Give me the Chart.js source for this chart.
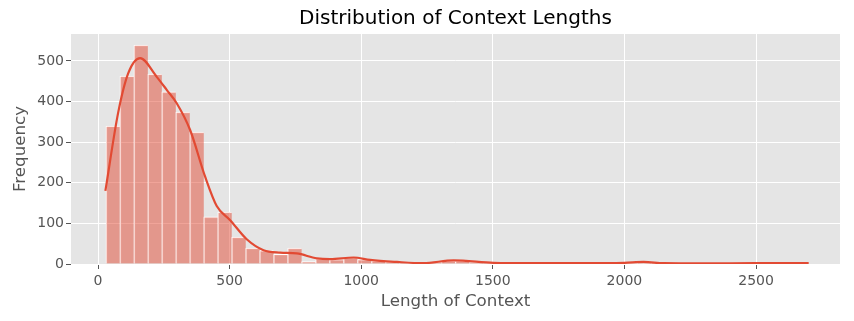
<!DOCTYPE html>
<html>
<head>
<meta charset="utf-8">
<script src="https://cdn.jsdelivr.net/npm/chart.js@4.4.0/dist/chart.umd.min.js"></script>
<style>
  html, body { margin: 0; padding: 0; background: #ffffff; }
  #wrap { width: 854px; height: 321px; position: relative; }
</style>
</head>
<body>
<div id="wrap"><canvas id="c" width="854" height="321"></canvas></div>
<script>
// ---- data ----
const binCenters = [56.56, 109.68, 162.8, 215.92, 269.04, 322.16, 375.28, 428.4, 481.52, 534.64,
  587.76, 640.88, 694.0, 747.12, 800.24, 853.36, 906.48, 959.6, 1012.72, 1065.84,
  1118.96, 1172.08, 1225.2, 1278.32, 1331.44, 1384.56, 1437.68, 1490.8, 1543.92, 1597.04,
  1650.16, 1703.28, 1756.4, 1809.52, 1862.64, 1915.76, 1968.88, 2022.0, 2075.12, 2128.24,
  2181.36, 2234.48, 2287.6, 2340.72, 2393.84, 2446.96, 2500.08, 2553.2, 2606.32, 2659.44];
const binCounts = [340, 463, 539, 468, 424, 374, 325, 116, 128, 66,
  39, 33, 24, 39, 6, 13, 11, 16, 11, 8,
  5, 3, 2, 3, 8, 8, 3, 1, 1, 1,
  1, 0, 1, 1, 0, 0, 1, 1, 3, 2,
  1, 0, 0, 1, 1, 0, 1, 0, 1, 1];
const kdeX = [28, 77, 115, 160, 223, 261, 299, 350, 407, 451, 502, 565, 629, 692, 755, 831, 882, 971, 1034, 1136, 1236, 1351, 1503, 1650, 1850, 2000, 2073, 2150, 2300, 2500, 2700];
const kdeY = [180, 374, 470, 507, 461, 429, 396, 330, 215, 143, 108, 61, 34, 28, 26, 14, 12, 16, 10, 5, 2, 9, 3, 2, 2, 3, 5, 2, 1.5, 2, 2];
const xTicks = [0, 500, 1000, 1500, 2000, 2500];
const yTicks = [0, 100, 200, 300, 400, 500];
const titleText = 'Distribution of Context Lengths';
const xLabel = 'Length of Context';
const yLabel = 'Frequency';

// ---- chart ----
const FONT = "'DejaVu Sans', sans-serif";
const barData = binCenters.map((x, i) => ({ x: x, y: binCounts[i] === 0 ? null : binCounts[i] }));
const kdeData = kdeX.map((x, i) => ({ x: x, y: kdeY[i] }));

new Chart(document.getElementById('c'), {
  type: 'bar',
  data: {
    datasets: [
      {
        type: 'line',
        data: kdeData,
        borderColor: '#E24A33',
        borderWidth: 2.2,
        pointRadius: 0,
        cubicInterpolationMode: 'monotone',
        fill: false,
        order: 0
      },
      {
        type: 'bar',
        data: barData,
        backgroundColor: 'rgba(226,74,51,0.5)',
        borderColor: '#ffffff',
        borderWidth: { top: 1, left: 1, right: 0, bottom: 0 },
        borderSkipped: false,
        barPercentage: 1,
        categoryPercentage: 1,
        order: 1
      }
    ]
  },
  options: {
    responsive: false,
    animation: false,
    devicePixelRatio: 1,
    layout: { padding: { left: 0, right: 14, top: 0, bottom: 0 } },
    plugins: {
      legend: { display: false },
      tooltip: { enabled: false },
      title: {
        display: true,
        text: titleText,
        color: '#000000',
        fullSize: false,
        font: { family: FONT, size: 20, weight: 'normal', lineHeight: 1.2 },
        padding: { top: 7, bottom: 3 }
      }
    },
    scales: {
      x: {
        type: 'linear',
        min: -102.6,
        max: 2819,
        offset: false,
        afterFit: (s) => { s.height = 57; },
        afterBuildTicks: (s) => { s.ticks = xTicks.map(v => ({ value: v })); },
        grid: { offset: false, color: '#ffffff', lineWidth: 1, drawTicks: true, tickLength: 5, tickColor: '#555555', tickWidth: 1 },
        border: { display: false },
        ticks: { color: '#555555', font: { family: FONT, size: 14 }, padding: 4, maxRotation: 0, autoSkip: false,
                 callback: (v) => String(v) },
        title: { display: true, text: xLabel, color: '#555555', font: { family: FONT, size: 16.7 }, padding: { top: 0, bottom: 9 } }
      },
      y: {
        type: 'linear',
        min: 0,
        max: 566.5,
        afterFit: (s) => { s.width = 71; },
        afterBuildTicks: (s) => { s.ticks = yTicks.map(v => ({ value: v })); },
        grid: { offset: false, color: '#ffffff', lineWidth: 1, drawTicks: true, tickLength: 5, tickColor: '#555555', tickWidth: 1 },
        border: { display: false },
        ticks: { color: '#555555', font: { family: FONT, size: 14 }, padding: 2,
                 callback: (v) => String(v) },
        title: { display: true, text: yLabel, color: '#555555', font: { family: FONT, size: 16.7 }, padding: { top: 11, bottom: 0 } }
      }
    }
  },
  plugins: [{
    id: 'bg',
    beforeDraw(chart) {
      const { ctx, chartArea: a } = chart;
      ctx.save();
      ctx.fillStyle = '#E5E5E5';
      ctx.fillRect(a.left, a.top, a.right - a.left, a.bottom - a.top);
      ctx.restore();
    }
  }]
});
</script>
</body>
</html>
